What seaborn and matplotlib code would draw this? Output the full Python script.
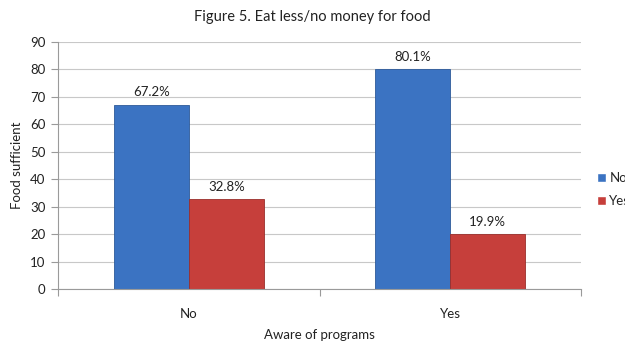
import matplotlib
matplotlib.use("Agg")
import matplotlib.pyplot as plt
import seaborn as sns
import pandas as pd

# Data
aware = ["No", "Yes"]
food_sufficient = ["No", "Yes"]
pct_no = [67.2, 80.1]   # food sufficient = No
pct_yes = [32.8, 19.9]  # food sufficient = Yes
y_ticks = [0, 10, 20, 30, 40, 50, 60, 70, 80, 90]

df = pd.DataFrame({
    "Aware of programs": aware * 2,
    "Food sufficient": [food_sufficient[0]] * 2 + [food_sufficient[1]] * 2,
    "Percent": pct_no + pct_yes,
})

sns.set_theme(style="white")
plt.rcParams["font.family"] = ["Lato", "DejaVu Sans"]

fig = plt.figure(figsize=(6.25, 3.43), dpi=100)
ax = fig.add_axes([0.0928, 0.1574, 0.8368, 0.7202])

palette = {"No": "#3b73c2", "Yes": "#c63f3b"}
sns.barplot(data=df, x="Aware of programs", y="Percent", hue="Food sufficient",
            order=aware, hue_order=food_sufficient, palette=palette,
            width=0.574, saturation=1, ax=ax, legend=True)

edge = {"No": "#2d5a99", "Yes": "#9a2f2c"}
for cont, lvl in zip(ax.containers, food_sufficient):
    for p in cont:
        p.set_edgecolor(edge[lvl])
        p.set_linewidth(0.6)
    ax.bar_label(cont, labels=[f"{v:.1f}%" for v in cont.datavalues],
                 padding=4.5, fontsize=9.5, color="#222222")

ax.set_ylim(0, 90)
ax.set_yticks(y_ticks)
ax.set_xlim(-0.5, 1.5)
ax.yaxis.grid(True, color="#c8c8c8", linewidth=0.8)
ax.set_axisbelow(True)

for s in ["top", "right"]:
    ax.spines[s].set_visible(False)
for s in ["left", "bottom"]:
    ax.spines[s].set_color("#9a9a9a")
    ax.spines[s].set_linewidth(0.8)

ax.tick_params(axis="y", which="both", left=True, length=5, width=0.8,
               color="#9a9a9a", labelsize=9.5, labelcolor="#222222", pad=4)
ax.set_xticks([0, 1])
ax.set_xticklabels(aware, fontsize=9.5, color="#222222")
ax.tick_params(axis="x", bottom=False, pad=8)
# category boundary tick marks below the x axis
ax.set_xticks([-0.5, 0.5, 1.5], minor=True)
ax.tick_params(axis="x", which="minor", bottom=True, length=5, width=0.8,
               color="#9a9a9a")

ax.set_xlabel("Aware of programs", fontsize=9.5, color="#222222", labelpad=6)
ax.set_ylabel("Food sufficient", fontsize=9.5, color="#222222", labelpad=5)
fig.suptitle("Figure 5. Eat less/no money for food", fontsize=10.5,
             color="#222222", y=0.972)

# legend sits at the right edge of the canvas, as in the original layout
handles, labels = ax.get_legend_handles_labels()
ax.legend(handles, labels, loc="center left", bbox_to_anchor=(0.955, 0.447),
          bbox_transform=fig.transFigure, frameon=False, fontsize=9.5,
          handlelength=0.7, handleheight=0.7, handletextpad=0.25,
          labelspacing=0.85, borderaxespad=0, borderpad=0)

fig.savefig("out.png", dpi=100)
